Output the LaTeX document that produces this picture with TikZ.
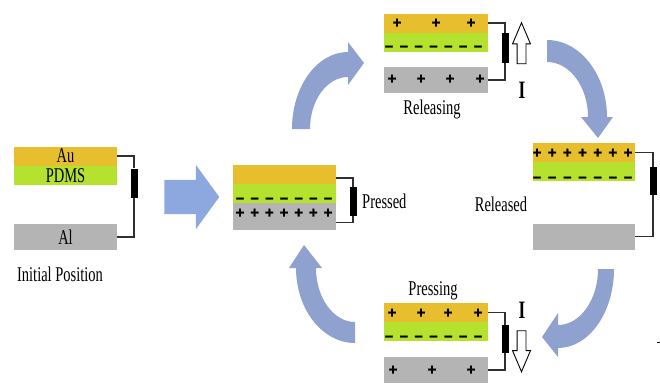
\documentclass[tikz,border=0pt]{standalone}
\usepackage{fontspec}
\setmainfont{Liberation Serif}
\newfontfamily\narrowserif{Liberation Serif}[FakeStretch=0.69]
\newfontfamily\signfont{Liberation Sans Bold}[FakeBold=1.5]
\usetikzlibrary{positioning,shapes.arrows}

\definecolor{aucolor}{HTML}{E7BF2E}
\definecolor{pdmscolor}{HTML}{B5E12F}
\definecolor{alcolor}{HTML}{B4B4B4}
\definecolor{flowcolor}{HTML}{8EA1CF}
\definecolor{pushcolor}{HTML}{8DA7DF}
\definecolor{wirecolor}{HTML}{303030}

\tikzset{
  layer/.style={rectangle, inner sep=0pt, minimum width=103, font=\narrowserif\fontsize{21}{21}\selectfont},
  aulayer/.style={layer, fill=aucolor, minimum height=19},
  pdmslayer/.style={layer, fill=pdmscolor, minimum height=19},
  allayer/.style={layer, fill=alcolor, minimum height=26},
  load/.style={rectangle, fill=black, inner sep=0pt, minimum width=7, minimum height=29},
  wire/.style={draw=wirecolor, line width=1.3pt},
  caption/.style={inner sep=0pt, font=\narrowserif\fontsize{21}{21}\selectfont},
  bigI/.style={inner sep=0pt, font=\narrowserif\bfseries\fontsize{25}{25}\selectfont},
  charge/.style={inner sep=0pt, anchor=base, yshift=-4.6pt, font=\signfont\fontsize{15}{15}\selectfont},
  current/.style={single arrow, draw=black, fill=white, line width=0.9pt, inner xsep=0pt, inner ysep=4pt,
    minimum height=41, single arrow head extend=4.5pt, single arrow tip angle=46},
}

\begin{document}
\begin{tikzpicture}[x=1pt,y=-1pt]
\useasboundingbox (0,0) rectangle (660,383);

% initial position
\node[aulayer] (iniAu) at (65.5,156) {Au};
\node[pdmslayer, below=0pt of iniAu] (iniPDMS) {PDMS};
\node[allayer] (iniAl) at (65.5,237) {Al};
\node[load] (iniR) at (134,183) {};
\draw[wire] (iniAu.east) -| (iniR.north);
\draw[wire] (iniR.south) |- (iniAl.east);
\node[caption] (iniCap) at (60,274) {Initial Position};

% push arrow
\node[single arrow, fill=pushcolor, inner xsep=0pt, inner ysep=17pt, minimum height=55,
  single arrow head extend=15pt, single arrow tip angle=108] (push) at (185.5,197) {};

% pressed
\node[aulayer] (prAu) at (284.5,174) {};
\node[pdmslayer, below=0pt of prAu] (prPDMS) {};
\node[allayer, minimum height=27, below=0pt of prPDMS] (prAl) {};
\node[load] (prR) at (353,201.5) {};
\draw[wire] ([yshift=-4pt]prAu.east) -| (prR.north);
\draw[wire] (prR.south) |- ([yshift=-6pt]prAl.east);
\node[caption, anchor=west] (prCap) at (362,201) {Pressed};
\foreach \k in {0,...,6} {
  \node[charge] (prM\k) at (240+14.67*\k,198) {–};
  \node[charge] (prP\k) at (240+14.67*\k,213) {+};
}

% releasing
\node[aulayer, minimum width=104] (rgAu) at (436,23) {};
\node[pdmslayer, minimum width=104, below=0pt of rgAu] (rgPDMS) {};
\node[allayer, minimum width=104] (rgAl) at (436,80) {};
\node[load, minimum height=30] (rgR) at (505,48) {};
\draw[wire] (rgAu.east) -| (rgR.north);
\draw[wire] (rgR.south) |- (rgAl.east);
\node[current, rotate=90] (rgFlow) at (521.5,48.5) {};
\node[bigI] (rgI) at (522,90) {I};
\node[caption] (rgCap) at (432,109) {Releasing};
\foreach \x [count=\k] in {397,436,471} \node[charge] (rgP\k) at (\x,23) {+};
\foreach \k in {0,...,6} \node[charge] (rgM\k) at (389+14.83*\k,46) {–};
\foreach \x [count=\k] in {392,421,450,480} \node[charge] (rgQ\k) at (\x,79) {+};

% released
\node[aulayer, minimum width=102] (rdAu) at (584,152.5) {};
\node[pdmslayer, minimum width=102, below=0pt of rdAu] (rdPDMS) {};
\node[allayer, minimum width=102] (rdAl) at (584,236.5) {};
\node[load, minimum height=28] (rdR) at (653,181) {};
\draw[wire] (rdAu.east) -| (rdR.north);
\draw[wire] (rdR.south) |- (rdAl.east);
\node[caption] (rdCap) at (501,204) {Released};
\foreach \k in {0,...,6} {
  \node[charge] (rdP\k) at (537+15.17*\k,153) {+};
  \node[charge] (rdM\k) at (537+15.17*\k,177) {–};
}

% pressing
\node[aulayer, minimum width=104] (psAu) at (436,312.5) {};
\node[pdmslayer, minimum width=104, below=0pt of psAu] (psPDMS) {};
\node[allayer, minimum width=104] (psAl) at (436,370) {};
\node[load, minimum height=28] (psR) at (505,339) {};
\draw[wire] (psAu.east) -| (psR.north);
\draw[wire] (psR.south) |- (psAl.east);
\node[current, rotate=-90] (psFlow) at (521.5,346) {};
\node[bigI] (psI) at (522,310) {I};
\node[caption] (psCap) at (433,291) {Pressing};
\foreach \x [count=\k] in {392,421,448,478} \node[charge] (psP\k) at (\x,313) {+};
\foreach \k in {0,...,6} \node[charge] (psM\k) at (389+14.83*\k,336) {–};
\foreach \x [count=\k] in {393,432,471} \node[charge] (psQ\k) at (\x,370) {+};

% cycle arrows
\fill[flowcolor] (292,129) .. controls (292,86.5) and (317,52) .. (348,52) -- (348,42) -- (364,63)
  -- (348,85) -- (348,77) .. controls (327,77) and (310,100.3) .. (310,129) -- cycle;
\fill[flowcolor] (547,40) .. controls (580,40) and (607,74.5) .. (607,117) -- (613,117) -- (598,138)
  -- (581,117) -- (588,117) .. controls (588,86.6) and (569.6,62) .. (547,62) -- cycle;
\fill[flowcolor] (614,269) .. controls (614,312.6) and (588.9,348) .. (558,348) -- (558,357) -- (542,337)
  -- (558,313) -- (558,325) .. controls (580,325) and (598,299.9) .. (598,269) -- cycle;
\fill[flowcolor] (355,343) .. controls (322.4,343) and (296,309.4) .. (296,268) -- (289,268) -- (304,245)
  -- (322,268) -- (316,268) .. controls (316,297.8) and (333.5,322) .. (355,322) -- cycle;

\fill (657,341.5) rectangle (660,343);
\end{tikzpicture}
\end{document}
